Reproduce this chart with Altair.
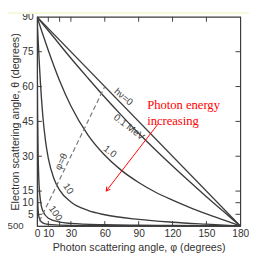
import altair as alt
import pandas as pd

# ---- data ----
phi_0 = [0, 180]
theta_0 = [90, 0]

phi_01 = [0, 15, 30, 45, 60, 75, 90, 105, 120, 135, 150, 165, 180]
theta_01 = [90, 81.1, 72.2, 63.7, 55.4, 47.5, 39.9, 32.7, 25.8, 19.1, 12.6, 6.3, 0]

phi_1 = [0, 5, 10, 20, 30, 45, 60, 75, 90, 105, 120, 135, 150, 165, 180]
theta_1 = [90, 82.6, 75.5, 62.5, 51.6, 39.2, 30.4, 23.8, 18.7, 14.5, 11.1, 8.0, 5.2, 2.6, 0]

phi_10 = [0, 1, 2, 3, 5, 7.5, 10, 15, 20, 30, 45, 60, 90, 120, 150, 180]
theta_10 = [90, 79.8, 70.2, 61.7, 48.1, 36.6, 29.1, 20.3, 15.4, 10.3, 6.7, 4.8, 2.8, 1.6, 0.75, 0]

phi_100 = [0, 0.25, 0.5, 1, 1.5, 2, 3, 5, 10, 20, 30, 60, 90, 120, 180]
theta_100 = [90, 66.8, 49.4, 30.2, 21.2, 16.2, 11.0, 6.6, 3.3, 1.65, 1.1, 0.5, 0.3, 0.17, 0]

phi_500 = [0, 0.05, 0.1, 0.2, 0.5, 1, 2, 5, 10, 30, 90, 180]
theta_500 = [90, 66.9, 49.5, 30.3, 13.2, 6.7, 3.35, 1.34, 0.67, 0.22, 0.06, 0]

phi_eq = [2, 60]
theta_eq = [2, 60]

x_labels = [0, 10, 30, 60, 90, 120, 150, 180]
y_labels = [5, 10, 15, 30, 45, 60, 75, 90]
x_ticks = [10, 20, 30, 60, 90, 120, 150]
y_ticks = [5, 10, 15, 30, 45, 60, 75]

curve_labels = ["hν=0", "0.1 MeV", "1.0", "10", "100", "φ=θ", "500"]
label_phi = [76.5, 81.5, 64.5, 27.5, 16.3, 21.5, -19]
label_theta = [55.5, 42.5, 32.0, 16.0, 5.4, 27.7, 0]
label_angle = [40, 38, 38, 55, 55, -64, 0]

note_lines = ["Photon energy", "increasing"]
note_phi = [97.5, 97.5]
note_theta = [52, 45]

arrow_phi = [107, 61.7]
arrow_theta = [43.8, 15.3]

# ---- tables ----
rows = []
for name, ps, ts in [("0", phi_0, theta_0), ("0.1", phi_01, theta_01), ("1", phi_1, theta_1),
                     ("10", phi_10, theta_10), ("100", phi_100, theta_100), ("500", phi_500, theta_500)]:
    for p, t in zip(ps, ts):
        rows.append({"series": name, "phi": p, "theta": t})
curves = pd.DataFrame(rows)
eq = pd.DataFrame({"phi": phi_eq, "theta": theta_eq})
labels = pd.DataFrame({"text": curve_labels, "phi": label_phi, "theta": label_theta, "angle": label_angle})
notes = pd.DataFrame({"text": note_lines, "phi": note_phi, "theta": note_theta})
arrow = pd.DataFrame({"phi": [arrow_phi[0]], "theta": [arrow_theta[0]],
                      "phi2": [arrow_phi[1]], "theta2": [arrow_theta[1]]})
head = pd.DataFrame({"phi": [arrow_phi[1]], "theta": [arrow_theta[1]]})
xt = pd.DataFrame({"v": x_ticks})
yt = pd.DataFrame({"v": y_ticks})

W, H = 210, 216
FONT = "Liberation Sans"
LINE = "#3c3c3c"

xs = alt.Scale(domain=[0, 180], nice=False)
ys = alt.Scale(domain=[0, 90], nice=False)

xaxis = alt.Axis(values=x_labels, tickSize=0, labelPadding=3, grid=False,
                 title="Photon scattering angle, φ (degrees)", titlePadding=3)
yaxis = alt.Axis(values=y_labels, tickSize=0, labelPadding=4, grid=False,
                 title="Electron scattering angle, θ (degrees)", titlePadding=1)


def X(field):
    return alt.X(field, scale=xs, axis=xaxis)


def Y(field):
    return alt.Y(field, scale=ys, axis=yaxis)


lines = alt.Chart(curves).mark_line(strokeWidth=1.4, interpolate="monotone", clip=True).encode(
    x=X("phi:Q"), y=Y("theta:Q"),
    detail="series:N",
    color=alt.value(LINE),
)

dashed = alt.Chart(eq).mark_line(strokeDash=[5, 3], strokeWidth=1.2, color="#777").encode(
    x=X("phi:Q"), y=Y("theta:Q"))

txt = alt.Chart(labels).mark_text(font=FONT, fontSize=10, color="#444", baseline="middle").encode(
    x=X("phi:Q"), y=Y("theta:Q"), text="text:N",
    angle=alt.Angle("angle:Q", scale=None))

note = alt.Chart(notes).mark_text(font="Liberation Serif", fontSize=13, color="#ff0000",
                                  align="left", baseline="middle").encode(
    x=X("phi:Q"), y=Y("theta:Q"), text="text:N")

arr = alt.Chart(arrow).mark_rule(color="#ff0000", strokeWidth=1).encode(
    x=X("phi:Q"), y=Y("theta:Q"), x2="phi2:Q", y2="theta2:Q")

ahead = alt.Chart(head).mark_point(shape="M -0.6 0.8 L 0 -0.2 L 0.6 0.8", filled=False,
                                   color="#ff0000", size=60, strokeWidth=1, angle=217.5, opacity=1).encode(
    x=X("phi:Q"), y=Y("theta:Q"))

tick_b = alt.Chart(xt).mark_rule(color=LINE, strokeWidth=1).encode(
    x=X("v:Q"), y=alt.value(H), y2=alt.value(H - 5))
tick_t = alt.Chart(xt).mark_rule(color=LINE, strokeWidth=1).encode(
    x=X("v:Q"), y=alt.value(0), y2=alt.value(5))
tick_l = alt.Chart(yt).mark_rule(color=LINE, strokeWidth=1).encode(
    y=Y("v:Q"), x=alt.value(0), x2=alt.value(5))
tick_r = alt.Chart(yt).mark_rule(color=LINE, strokeWidth=1).encode(
    y=Y("v:Q"), x=alt.value(W - 5), x2=alt.value(W))

band = alt.Chart(pd.DataFrame({"a": [0]})).mark_rect(color="#f3fbdc").encode(
    x=alt.value(-30), x2=alt.value(W + 10), y=alt.value(-5), y2=alt.value(-3))

chart = alt.layer(lines, band, tick_b, tick_t, tick_l, tick_r, dashed, txt, note, arr, ahead).properties(
    width=W, height=H,
    autosize=alt.AutoSizeParams(type="none"),
    padding={"left": 30, "top": 5, "right": 9, "bottom": 30},
    background="white",
).configure_view(stroke=LINE, strokeWidth=1.2).configure_axis(
    labelFont=FONT, labelFontSize=10.5, labelColor="#333", domainColor=LINE,
    labelFlush=False, labelOverlap=False, labelBound=False,
    titleFont=FONT, titleFontSize=11, titleFontWeight="normal", titleColor="#333",
)

chart.save("out.html", embed_options={"renderer": "svg", "actions": False})
